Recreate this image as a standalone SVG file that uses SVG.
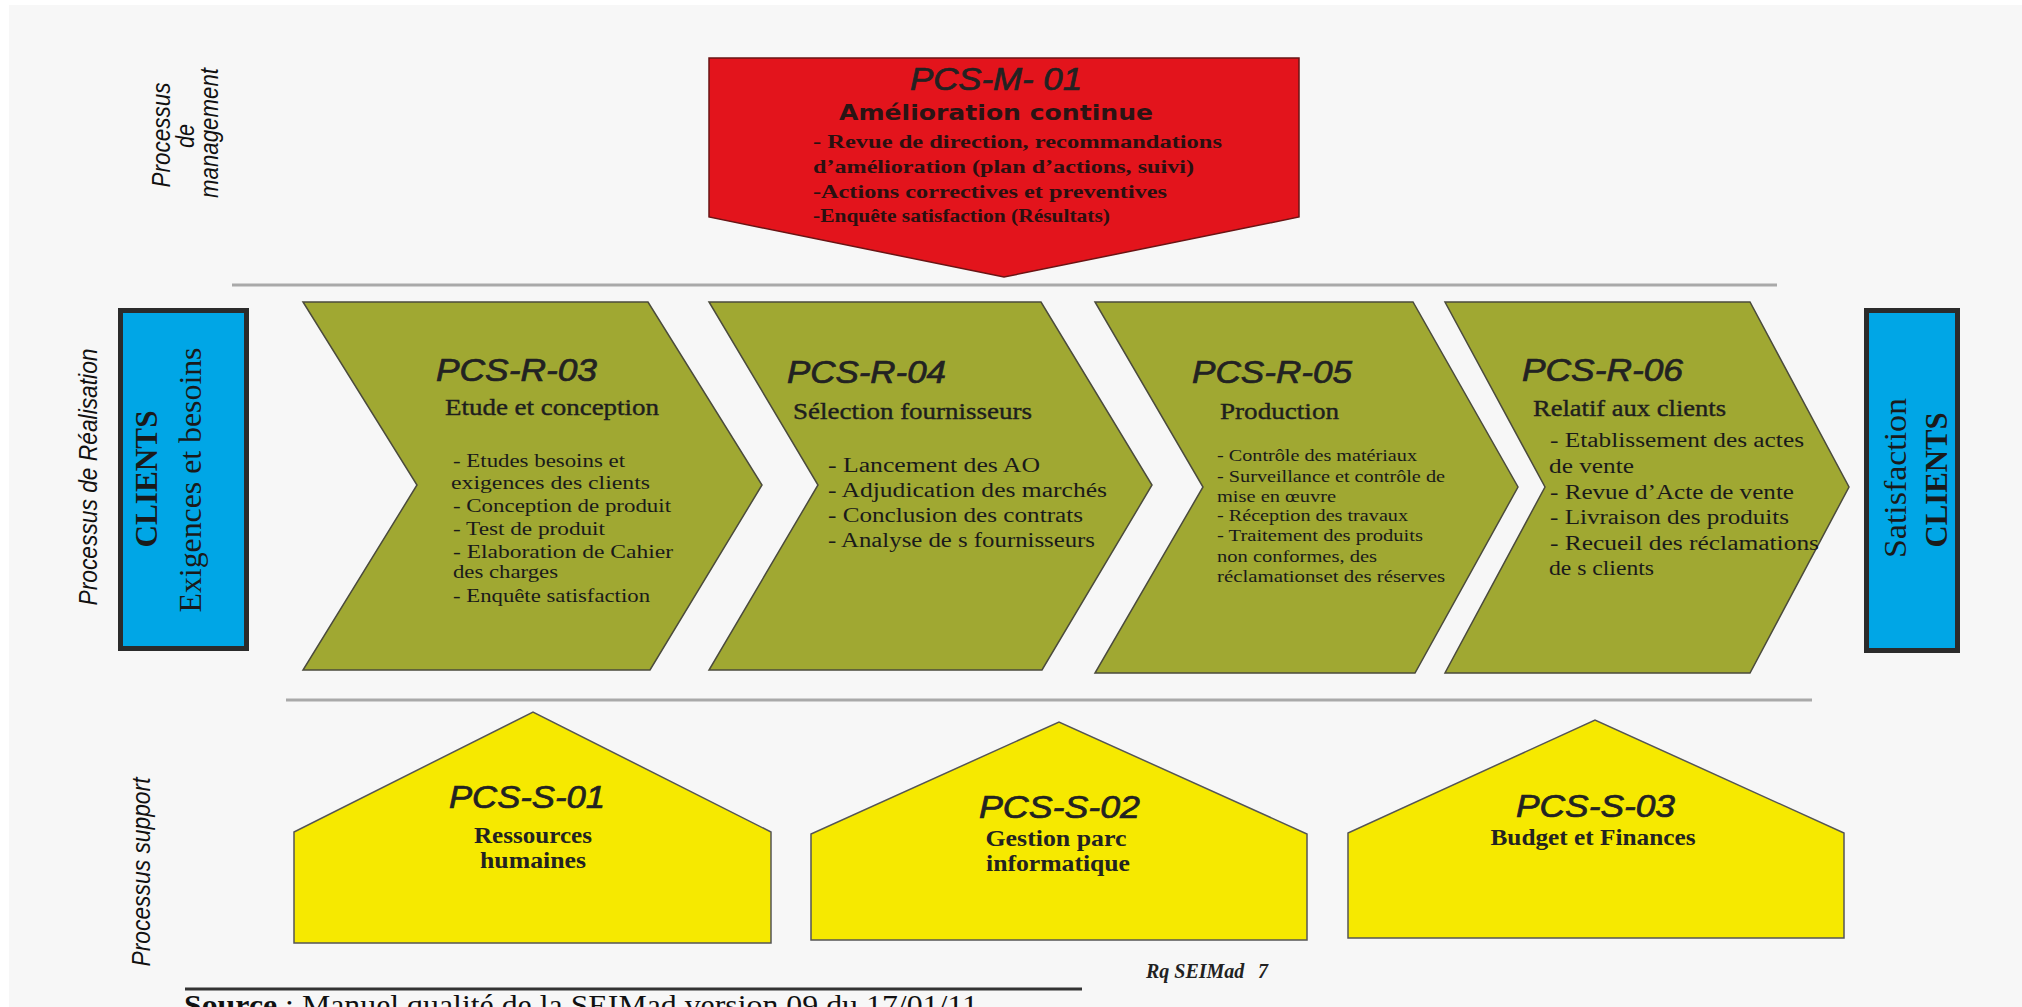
<svg xmlns="http://www.w3.org/2000/svg" width="2022" height="1007" viewBox="0 0 2022 1007">
<style>
.bg{fill:#f7f7f7}
.sep{stroke:#a9a9a9;stroke-width:3;fill:none}
.foot{stroke:#333;stroke-width:3;fill:none}
.chev{fill:#a0a832;stroke:#4b4b3c;stroke-width:1.5}
.blue{fill:#00a6e6;stroke:#2b2b2b;stroke-width:5}
.red{fill:#e3141c;stroke:#6a1414;stroke-width:1.5}
.house{fill:#f6e900;stroke:#555;stroke-width:1.5}
.lbl{font-family:"Liberation Sans",Arial,sans-serif;font-style:italic;font-size:25px;fill:#111;text-anchor:middle}
.ttl{font-family:"Liberation Sans",Arial,sans-serif;font-style:italic;font-size:31px;fill:#222;stroke:#222;stroke-width:0.7}
.sub{font-family:"Liberation Serif","Times New Roman",serif;font-size:24px;fill:#1e1e1e;stroke:#1e1e1e;stroke-width:0.4}
.bul{font-family:"Liberation Serif","Times New Roman",serif;font-size:19px;fill:#1a1a1a}
.bul20{font-family:"Liberation Serif","Times New Roman",serif;font-size:20px;fill:#1a1a1a}
.bul16{font-family:"Liberation Serif","Times New Roman",serif;font-size:16px;fill:#1a1a1a}
.rbul{font-family:"Liberation Serif","Times New Roman",serif;font-size:19px;font-weight:bold;fill:#2a1010}
.hsub{font-family:"Liberation Serif","Times New Roman",serif;font-size:23px;font-weight:bold;fill:#222;text-anchor:middle}
.big{font-family:"Liberation Serif","Times New Roman",serif;font-size:31px;fill:#1a1a1a;text-anchor:middle}
.amel{font-family:"DejaVu Sans",Verdana,sans-serif;font-size:21px;font-weight:bold;fill:#2a1414}
.src{font-family:"Liberation Serif","Times New Roman",serif;font-size:29px;fill:#111}
.rq{font-family:"Liberation Serif","Times New Roman",serif;font-size:20px;font-style:italic;font-weight:bold;fill:#222}
</style>
<rect class="bg" x="9" y="5" width="2013" height="1002"/>

<g id="lane-labels">
<text class="lbl" transform="translate(170,135) rotate(-90)" textLength="105" lengthAdjust="spacingAndGlyphs">Processus</text>
<text class="lbl" transform="translate(194,136) rotate(-90)" textLength="24" lengthAdjust="spacingAndGlyphs">de</text>
<text class="lbl" transform="translate(218,133) rotate(-90)" textLength="130" lengthAdjust="spacingAndGlyphs">management</text>
<text class="lbl" transform="translate(97,477) rotate(-90)" textLength="257" lengthAdjust="spacingAndGlyphs">Processus de Réalisation</text>
<text class="lbl" transform="translate(150,872) rotate(-90)" textLength="189" lengthAdjust="spacingAndGlyphs">Processus support</text>
</g>

<g id="connectors">
<path class="sep" d="M232 285 H1777"/>
<path class="sep" d="M286 700 H1812"/>
<path class="foot" d="M185 989 H1082"/>
</g>

<g id="pcs-m-01">
<polygon class="red" points="709,58 1299,58 1299,217 1004,277 709,217"/>
<text class="ttl" x="910" y="90" font-size="30" textLength="172" lengthAdjust="spacingAndGlyphs">PCS-M- 01</text>
<text class="amel" x="839" y="120" textLength="314" lengthAdjust="spacingAndGlyphs">Amélioration continue</text>
<text class="rbul" x="813" y="148" textLength="409" lengthAdjust="spacingAndGlyphs">- Revue de direction,  recommandations</text>
<text class="rbul" x="813" y="173" textLength="381" lengthAdjust="spacingAndGlyphs">d’amélioration (plan d’actions, suivi)</text>
<text class="rbul" x="813" y="198" textLength="354" lengthAdjust="spacingAndGlyphs">-Actions correctives et preventives</text>
<text class="rbul" x="813" y="222" textLength="297" lengthAdjust="spacingAndGlyphs">-Enquête satisfaction (Résultats)</text>
</g>

<g id="clients-in">
<rect class="blue" x="120.5" y="310.5" width="126" height="338"/>
<text class="big" font-weight="bold" transform="translate(157,479) rotate(-90)" textLength="137" lengthAdjust="spacingAndGlyphs">CLIENTS</text>
<text class="big" transform="translate(201,480) rotate(-90)" textLength="265" lengthAdjust="spacingAndGlyphs">Exigences et besoins</text>
</g>

<g id="pcs-r-03">
<polygon class="chev" points="303,302 648,302 762,485 650,670 303,670 417,485"/>
<text class="ttl" x="436" y="381" textLength="161" lengthAdjust="spacingAndGlyphs">PCS-R-03</text>
<text class="sub" x="445" y="415" textLength="214" lengthAdjust="spacingAndGlyphs">Etude et conception</text>
<text class="bul" x="453" y="467" textLength="172" lengthAdjust="spacingAndGlyphs">- Etudes besoins et</text>
<text class="bul" x="451" y="489" textLength="199" lengthAdjust="spacingAndGlyphs">exigences  des clients</text>
<text class="bul" x="453" y="512" textLength="218" lengthAdjust="spacingAndGlyphs">- Conception de produit</text>
<text class="bul" x="453" y="535" textLength="152" lengthAdjust="spacingAndGlyphs">- Test de produit</text>
<text class="bul" x="453" y="558" textLength="220" lengthAdjust="spacingAndGlyphs">- Elaboration de  Cahier</text>
<text class="bul" x="453" y="578" textLength="105" lengthAdjust="spacingAndGlyphs">des charges</text>
<text class="bul" x="453" y="602" textLength="197" lengthAdjust="spacingAndGlyphs">- Enquête satisfaction</text>
</g>

<g id="pcs-r-04">
<polygon class="chev" points="709,302 1041,302 1152,485 1042,670 709,670 818,485"/>
<text class="ttl" x="787" y="383" textLength="159" lengthAdjust="spacingAndGlyphs">PCS-R-04</text>
<text class="sub" x="793" y="419" textLength="239" lengthAdjust="spacingAndGlyphs">Sélection fournisseurs</text>
<text class="bul20" x="828" y="472" textLength="212" lengthAdjust="spacingAndGlyphs">- Lancement des AO</text>
<text class="bul20" x="828" y="497" textLength="279" lengthAdjust="spacingAndGlyphs">- Adjudication des marchés</text>
<text class="bul20" x="828" y="522" textLength="255" lengthAdjust="spacingAndGlyphs">- Conclusion des contrats</text>
<text class="bul20" x="828" y="547" textLength="267" lengthAdjust="spacingAndGlyphs">- Analyse de s fournisseurs</text>
</g>

<g id="pcs-r-05">
<polygon class="chev" points="1095,302 1413,302 1518,487 1415,673 1095,673 1203,487"/>
<text class="ttl" x="1192" y="383" textLength="160" lengthAdjust="spacingAndGlyphs">PCS-R-05</text>
<text class="sub" x="1220" y="419" textLength="119" lengthAdjust="spacingAndGlyphs">Production</text>
<text class="bul16" x="1217" y="461" textLength="200" lengthAdjust="spacingAndGlyphs">- Contrôle des matériaux</text>
<text class="bul16" x="1217" y="482" textLength="228" lengthAdjust="spacingAndGlyphs">- Surveillance et contrôle de</text>
<text class="bul16" x="1217" y="502" textLength="119" lengthAdjust="spacingAndGlyphs">mise en œuvre</text>
<text class="bul16" x="1217" y="521" textLength="191" lengthAdjust="spacingAndGlyphs">- Réception des travaux</text>
<text class="bul16" x="1217" y="541" textLength="206" lengthAdjust="spacingAndGlyphs">- Traitement des produits</text>
<text class="bul16" x="1217" y="562" textLength="160" lengthAdjust="spacingAndGlyphs">non conformes, des</text>
<text class="bul16" x="1217" y="582" textLength="228" lengthAdjust="spacingAndGlyphs">réclamationset des réserves</text>
</g>

<g id="pcs-r-06">
<polygon class="chev" points="1445,302 1750,302 1849,487 1750,673 1445,673 1545,487"/>
<text class="ttl" x="1522" y="381" textLength="161" lengthAdjust="spacingAndGlyphs">PCS-R-06</text>
<text class="sub" x="1533" y="416" textLength="193" lengthAdjust="spacingAndGlyphs">Relatif aux clients</text>
<text class="bul20" x="1550" y="447" textLength="254" lengthAdjust="spacingAndGlyphs">- Etablissement des actes</text>
<text class="bul20" x="1549" y="473" textLength="85" lengthAdjust="spacingAndGlyphs">de vente</text>
<text class="bul20" x="1550" y="499" textLength="244" lengthAdjust="spacingAndGlyphs">- Revue d’Acte de vente</text>
<text class="bul20" x="1550" y="524" textLength="239" lengthAdjust="spacingAndGlyphs">- Livraison des produits</text>
<text class="bul20" x="1550" y="550" textLength="269" lengthAdjust="spacingAndGlyphs">- Recueil des réclamations</text>
<text class="bul20" x="1549" y="575" textLength="105" lengthAdjust="spacingAndGlyphs">de s clients</text>
</g>

<g id="clients-out">
<rect class="blue" x="1866.5" y="310.5" width="91" height="340"/>
<text class="big" font-size="32" transform="translate(1906,478) rotate(-90)" textLength="160" lengthAdjust="spacingAndGlyphs">Satisfaction</text>
<text class="big" font-weight="bold" transform="translate(1947,480) rotate(-90)" textLength="135" lengthAdjust="spacingAndGlyphs">CLIENTS</text>
</g>

<g id="pcs-s-01">
<polygon class="house" points="294,943 294,832 533,712 771,832 771,943"/>
<text class="ttl" x="449" y="808" font-size="30" textLength="156" lengthAdjust="spacingAndGlyphs">PCS-S-01</text>
<text class="hsub" x="533" y="843" textLength="118" lengthAdjust="spacingAndGlyphs">Ressources</text>
<text class="hsub" x="533" y="868" textLength="106" lengthAdjust="spacingAndGlyphs">humaines</text>
</g>

<g id="pcs-s-02">
<polygon class="house" points="811,940 811,834 1059,722 1307,834 1307,940"/>
<text class="ttl" x="979" y="818" font-size="30" textLength="161" lengthAdjust="spacingAndGlyphs">PCS-S-02</text>
<text class="hsub" x="1056" y="846" textLength="141" lengthAdjust="spacingAndGlyphs">Gestion parc</text>
<text class="hsub" x="1058" y="871" textLength="144" lengthAdjust="spacingAndGlyphs">informatique</text>
</g>

<g id="pcs-s-03">
<polygon class="house" points="1348,938 1348,833 1595,720 1844,833 1844,938"/>
<text class="ttl" x="1516" y="817" font-size="30" textLength="159" lengthAdjust="spacingAndGlyphs">PCS-S-03</text>
<text class="hsub" x="1593" y="845" textLength="205" lengthAdjust="spacingAndGlyphs">Budget et Finances</text>
</g>

<g id="footer">
<text class="rq" x="1146" y="978">Rq SEIMad<tspan x="1258">7</tspan></text>
<text class="src" x="184" y="1015" textLength="794" lengthAdjust="spacingAndGlyphs"><tspan font-weight="bold">Source</tspan> : Manuel qualité de la SEIMad version 09 du 17/01/11</text>
</g>
</svg>
